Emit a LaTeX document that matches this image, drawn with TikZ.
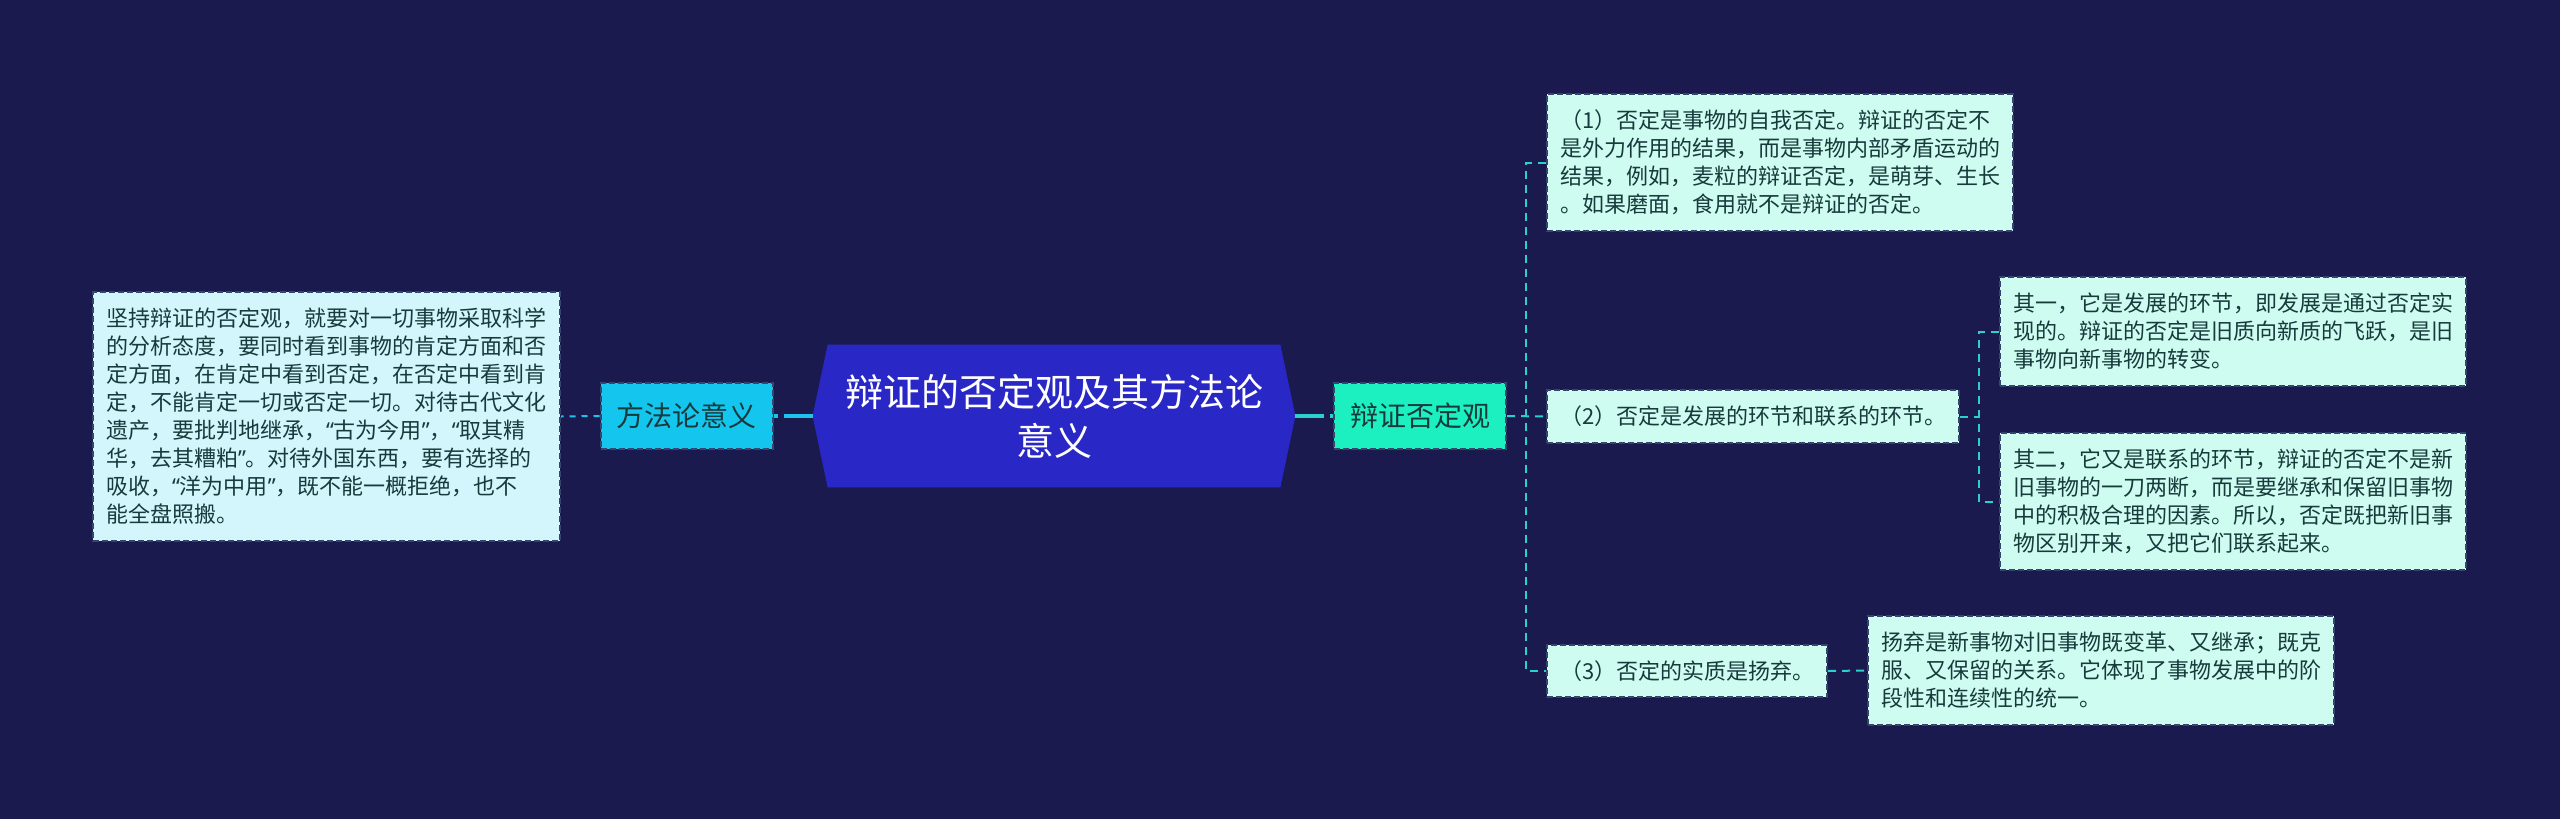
\documentclass[tikz,border=0pt]{standalone}
\usepackage{fontspec}
\setmainfont{Noto Sans CJK SC}
\newfontfamily\latinquote{Noto Sans}
\newcommand\quoteopen{{\latinquote “}}
\newcommand\quoteclose{{\latinquote ”}}
\usetikzlibrary{positioning,backgrounds}

\definecolor{bgnavy}{HTML}{1B1A4F}
\definecolor{rootblue}{HTML}{2927C5}
\definecolor{methodcyan}{HTML}{14C6EE}
\definecolor{conceptgreen}{HTML}{1CF0C1}
\definecolor{leafmint}{HTML}{CFFCF0}
\definecolor{leafsky}{HTML}{D3F5FC}
\definecolor{leaftext}{HTML}{173A3C}
\definecolor{boxline}{HTML}{34466E}
\definecolor{linkleft}{HTML}{1DC3EC}
\definecolor{linkright}{HTML}{2BCFD0}

\begin{document}
\begin{tikzpicture}[
x=0.5pt,y=-0.5pt,
leaf/.style={draw=boxline,line width=1pt,dash pattern=on 3pt off 1.5pt,fill=leafmint,text=leaftext,
  align=left,inner xsep=6.5pt,inner ysep=8pt,font=\fontsize{11pt}{14pt}\selectfont},
topic/.style={draw=boxline,line width=1pt,dash pattern=on 3pt off 1.5pt,text=leaftext,
  minimum width=86pt,minimum height=33pt,inner sep=0pt,font=\fontsize{14pt}{17pt}\selectfont},
stem/.style={line width=2pt,dash pattern=on 14.5pt off 3pt on 3pt off 2pt},
branch/.style={linkright,line width=1pt,dash pattern=on 4pt off 3pt}
]
\useasboundingbox (0,0) rectangle (2560,819);

% centre
\node[minimum width=226pt,minimum height=71pt,inner sep=0pt,align=center,text=white,
  font=\fontsize{19pt}{24.5pt}\selectfont] (root) at (1054,416) {辩证的否定观及其方法论\\意义};
\coordinate (rootW) at ([xshift=-7.5pt]root.west);
\coordinate (rootE) at ([xshift=7.5pt]root.east);

% left side
\node[topic,fill=methodcyan] (method) at (686.5,416) {方法论意义};
\node[leaf,fill=leafsky,anchor=east,text width=220.5pt] (heritage) at (561,416.5) {坚持辩证的否定观，就要对一切事物采取科学\\的分析态度，要同时看到事物的肯定方面和否\\定方面，在肯定中看到否定，在否定中看到肯\\定，不能肯定一切或否定一切。对待古代文化\\遗产，要批判地继承，\quoteopen 古为今用\quoteclose ，\quoteopen 取其精\\华，去其糟粕\quoteclose 。对待外国东西，要有选择的\\吸收，\quoteopen 洋为中用\quoteclose ，既不能一概拒绝，也不\\能全盘照搬。};

% right side
\node[topic,fill=conceptgreen] (concept) at (1420,416) {辩证否定观};
\node[leaf,anchor=west] (self) at (1546,162.5) {（1）否定是事物的自我否定。辩证的否定不\\是外力作用的结果，而是事物内部矛盾运动的\\结果，例如，麦粒的辩证否定，是萌芽、生长\\。如果磨面，食用就不是辩证的否定。};
\node[leaf,anchor=west] (link) at (1546,416.5) {（2）否定是发展的环节和联系的环节。};
\node[leaf,anchor=west] (essence) at (1546,671) {（3）否定的实质是扬弃。};
\node[leaf,anchor=west] (first) at (1999,331.5) {其一，它是发展的环节，即发展是通过否定实\\现的。辩证的否定是旧质向新质的飞跃，是旧\\事物向新事物的转变。};
\node[leaf,anchor=west] (second) at (1999,501.5) {其二，它又是联系的环节，辩证的否定不是新\\旧事物的一刀两断，而是要继承和保留旧事物\\中的积极合理的因素。所以，否定既把新旧事\\物区别开来，又把它们联系起来。};
\node[leaf,anchor=west] (sublate) at (1867,670.5) {扬弃是新事物对旧事物既变革、又继承；既克\\服、又保留的关系。它体现了事物发展中的阶\\段性和连续性的统一。};

\begin{scope}[on background layer]
\fill[bgnavy] (0,0) rectangle (2560,819);
\fill[rootblue] (root.north west) -- (root.north east) -- (rootE) -- (root.south east)
  -- (root.south west) -- (rootW) -- cycle;
\end{scope}

% connectors
\draw[stem,linkleft] (rootW) -- (method.east);
\draw[linkleft,line width=1pt,dash pattern=on 3pt off 3pt] (method.west) -- (heritage.east);
\draw[stem,linkright] (rootE) -- (concept.west);
\draw[branch] (concept.east) -- (link.west);
\draw[branch] (self.west) -- ++(-20,0) |- (essence.west);
\draw[branch] (link.east) -- ++(20,0);
\draw[branch] (first.west) -- ++(-20,0) |- (second.west);
\draw[branch] (essence.east) -- (sublate.west);
\end{tikzpicture}
\end{document}
